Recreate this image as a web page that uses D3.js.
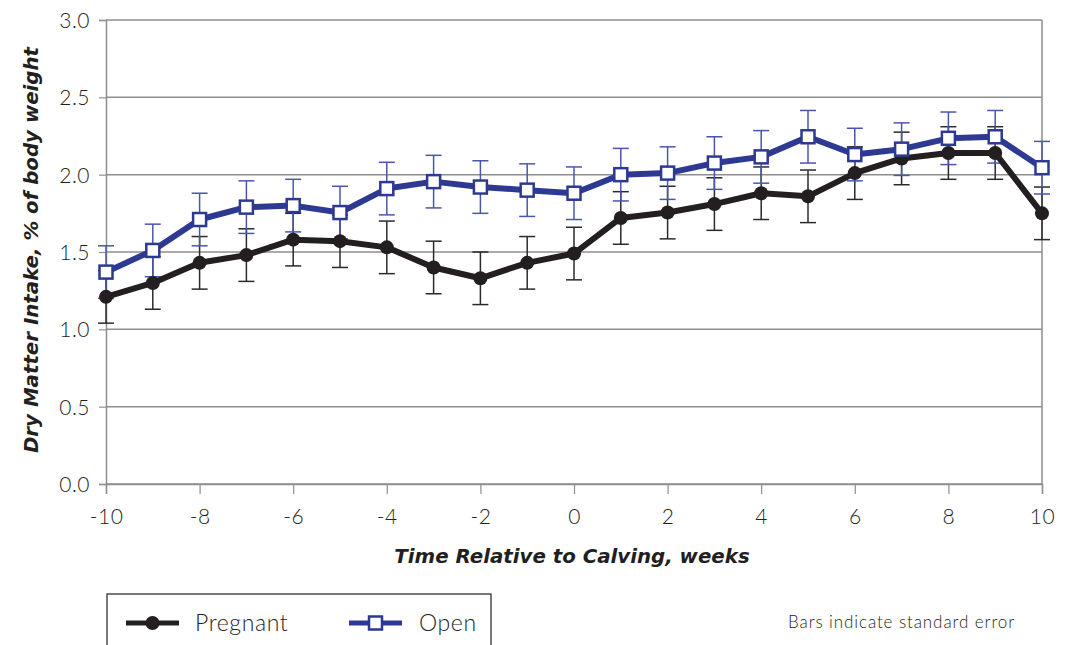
<!DOCTYPE html>
<head>
<meta charset="utf-8">
<style>
body { margin: 0; background: #fff; }
text { font-family: Lato, "Open Sans", sans-serif; fill: #231f20; }
.tick text { font-size: 21px; font-weight: 300; letter-spacing: 0.5px; }
.axis-title { font-family: "DejaVu Sans", sans-serif; font-size: 19.8px; font-weight: bold; font-style: italic; }
</style>
<script src="https://d3js.org/d3.v7.min.js"></script>
</head>
<body>
<svg width="1065" height="645"></svg>
<script>
var weeks = d3.range(-10, 11);
var pregnant = [1.21, 1.30, 1.43, 1.48, 1.58, 1.57, 1.53, 1.40, 1.33, 1.43, 1.49,
                1.72, 1.755, 1.81, 1.88, 1.86, 2.01, 2.105, 2.14, 2.14, 1.75];
var open = [1.37, 1.51, 1.71, 1.79, 1.80, 1.755, 1.91, 1.955, 1.92, 1.90, 1.88,
            2.00, 2.01, 2.075, 2.115, 2.245, 2.13, 2.165, 2.235, 2.245, 2.045];
var pregnantSE = [0.17, 0.17, 0.17, 0.17, 0.17, 0.17, 0.17, 0.17, 0.17, 0.17, 0.17,
                  0.17, 0.17, 0.17, 0.17, 0.17, 0.17, 0.17, 0.17, 0.17, 0.17];
var openSE = [0.17, 0.17, 0.17, 0.17, 0.17, 0.17, 0.17, 0.17, 0.17, 0.17, 0.17,
              0.17, 0.17, 0.17, 0.17, 0.17, 0.17, 0.17, 0.17, 0.17, 0.17];
var xTicks = [-10, -8, -6, -4, -2, 0, 2, 4, 6, 8, 10];
var yTicks = [0, 0.5, 1, 1.5, 2, 2.5, 3];

var svg = d3.select("svg"),
    margin = {top: 20, right: 23, bottom: 161, left: 106},
    width = +svg.attr("width") - margin.left - margin.right,
    height = +svg.attr("height") - margin.top - margin.bottom,
    g = svg.append("g").attr("transform", "translate(" + margin.left + "," + margin.top + ")");

var x = d3.scaleLinear().domain([-10, 10]).range([0, width]);
var y = d3.scaleLinear().domain([0, 3]).range([height, 0]);

var gridColor = "#8e8e8e";

// gridlines
g.append("g").selectAll("line")
  .data(yTicks)
  .enter().append("line")
    .attr("x1", 0).attr("x2", width)
    .attr("y1", function(d) { return y(d); })
    .attr("y2", function(d) { return y(d); })
    .attr("stroke", gridColor)
    .attr("stroke-width", 1.5);

g.append("line")
  .attr("x1", width).attr("x2", width)
  .attr("y1", 0).attr("y2", height)
  .attr("stroke", gridColor).attr("stroke-width", 1.5);

var xAxis = g.append("g")
  .attr("transform", "translate(0," + height + ")")
  .call(d3.axisBottom(x).tickValues(xTicks).tickSize(10).tickPadding(15)
    .tickFormat(function(d) { return String(d); }));

var yAxis = g.append("g")
  .call(d3.axisLeft(y).tickValues(yTicks).tickSize(7).tickPadding(9).tickFormat(d3.format(".1f")));

[xAxis, yAxis].forEach(function(a) {
  a.select(".domain").attr("stroke", gridColor).attr("stroke-width", 1.5);
  a.selectAll(".tick line").attr("stroke", gridColor).attr("stroke-width", 1.2);
  a.selectAll(".tick text").attr("fill", "#231f20");
});
yAxis.selectAll(".tick text").attr("dy", "0.36em");

var series = [
  {name: "Pregnant", values: pregnant, se: pregnantSE, color: "#231f20", barColor: "#2a2a2a", marker: "circle"},
  {name: "Open", values: open, se: openSE, color: "#2e3992", barColor: "#4a56ad", marker: "square"}
];

var line = d3.line()
  .x(function(d, i) { return x(weeks[i]); })
  .y(function(d) { return y(d); });

// error bars
series.forEach(function(s) {
  var eb = g.append("g").attr("stroke", s.barColor).attr("stroke-width", 1.5);
  eb.selectAll("line.v").data(s.values).enter().append("line")
    .attr("x1", function(d, i) { return x(weeks[i]); })
    .attr("x2", function(d, i) { return x(weeks[i]); })
    .attr("y1", function(d, i) { return y(d + s.se[i]); })
    .attr("y2", function(d, i) { return y(d - s.se[i]); });
  eb.selectAll("line.t").data(s.values).enter().append("line")
    .attr("x1", function(d, i) { return x(weeks[i]) - 8; })
    .attr("x2", function(d, i) { return x(weeks[i]) + 8; })
    .attr("y1", function(d, i) { return y(d + s.se[i]); })
    .attr("y2", function(d, i) { return y(d + s.se[i]); });
  eb.selectAll("line.b").data(s.values).enter().append("line")
    .attr("x1", function(d, i) { return x(weeks[i]) - 8; })
    .attr("x2", function(d, i) { return x(weeks[i]) + 8; })
    .attr("y1", function(d, i) { return y(d - s.se[i]); })
    .attr("y2", function(d, i) { return y(d - s.se[i]); });
});

function drawMarker(sel, s) {
  if (s.marker === "circle") {
    sel.append("circle").attr("r", 7).attr("fill", s.color);
  } else {
    sel.append("rect").attr("x", -6.5).attr("y", -6.5).attr("width", 13).attr("height", 13)
      .attr("fill", "#fff").attr("stroke", s.color).attr("stroke-width", 2.5);
  }
}

series.forEach(function(s) {
  g.append("path")
    .datum(s.values)
    .attr("fill", "none")
    .attr("stroke", s.color)
    .attr("stroke-width", 6)
    .attr("stroke-linejoin", "round")
    .attr("d", line);
  g.append("g").selectAll("g")
    .data(s.values)
    .enter().append("g")
      .attr("transform", function(d, i) { return "translate(" + x(weeks[i]) + "," + y(d) + ")"; })
      .each(function() { drawMarker(d3.select(this), s); });
});

// axis titles
svg.append("text")
  .attr("class", "axis-title")
  .attr("x", 572)
  .attr("y", 563)
  .attr("text-anchor", "middle")
  .text("Time Relative to Calving, weeks");

svg.append("text")
  .attr("class", "axis-title")
  .attr("transform", "translate(38," + (margin.top + 230) + ") rotate(-90)")
  .attr("text-anchor", "middle")
  .text("Dry Matter Intake, % of body weight");

// legend
var legend = svg.append("g");
legend.append("rect")
  .attr("x", 107).attr("y", 594).attr("width", 384).attr("height", 80)
  .attr("fill", "none").attr("stroke", "#231f20").attr("stroke-width", 1.2);

var legendPos = [{lx: 126, tx: 195}, {lx: 349, tx: 419}];
series.forEach(function(s, i) {
  var p = legendPos[i];
  legend.append("line")
    .attr("x1", p.lx).attr("x2", p.lx + 53)
    .attr("y1", 623).attr("y2", 623)
    .attr("stroke", s.color).attr("stroke-width", 5);
  var m = legend.append("g").attr("transform", "translate(" + (p.lx + 26.5) + ",623)");
  drawMarker(m, s);
  legend.append("text")
    .attr("x", p.tx).attr("y", 623)
    .attr("dy", "0.36em")
    .attr("font-size", 23)
    .attr("font-weight", 300)
    .attr("letter-spacing", 0.6)
    .text(s.name);
});

svg.append("text")
  .attr("x", 788).attr("y", 622)
  .attr("dy", "0.36em")
  .attr("font-size", 17)
  .attr("font-weight", 300)
  .attr("letter-spacing", 0.9)
  .text("Bars indicate standard error");
</script>
</body>
